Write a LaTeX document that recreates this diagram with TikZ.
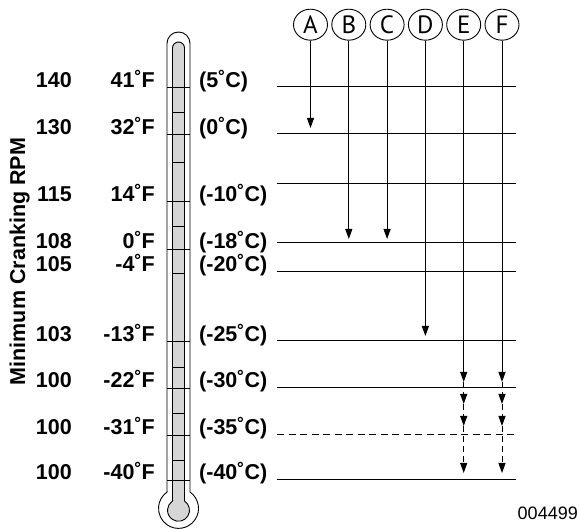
\documentclass[tikz,border=0pt]{standalone}
\usepackage{fontspec}
\setmainfont{Liberation Sans}
\newfontfamily\letterfont{PT Sans}
\usetikzlibrary{arrows.meta,shapes.geometric}
\begin{document}
\begin{tikzpicture}[x=1pt,y=-1pt,
  lbl/.style={font=\bfseries\fontsize{21.5}{25}\selectfont, inner sep=0pt},
  letter/.style={ellipse, draw, line width=0.9pt, minimum width=34pt, minimum height=31pt, inner sep=0pt, font=\letterfont\fontsize{25}{26}\selectfont},
  hline/.style={line width=1pt},
  tick/.style={line width=0.9pt},
  arr/.style={line width=1pt, -{Triangle[length=10pt,width=7pt]}},
  darr/.style={line width=1pt, dash pattern=on 6pt off 4pt, -{Triangle[length=10pt,width=7pt]}}]
\useasboundingbox (0,0) rectangle (579,529);

% thermometer
\fill[white] (167,492) -- (167,43.5) arc[start angle=180,end angle=360,radius=11.5] -- (190,492) arc[start angle=-55,end angle=235,radius=20] -- cycle;
\draw[line width=0.9pt] (167,492) -- (167,43.5) arc[start angle=180,end angle=360,radius=11.5] -- (190,492) arc[start angle=-55,end angle=235,radius=20] -- cycle;
\draw[line width=0.9pt, fill=black!16] (172.5,501) -- (172.5,48) arc[start angle=180,end angle=360,radius=6] -- (184.5,501) arc[start angle=-57,end angle=237,radius=11] -- cycle;
\foreach \y in {87,134,201,249,341,388,435,480} \draw[tick] (167,\y) -- (190,\y);
\foreach \y in {112,162,226,273,367,413,460} \draw[tick] (172.5,\y) -- (184.5,\y);

% rows of labels
\foreach \yb/\r/\f/\c in {88/140/41˚F/(5˚C), 135/130/32˚F/(0˚C), 201.5/115/14˚F/(-10˚C), 249/108/0˚F/(-18˚C), 272/105/-4˚F/(-20˚C), 341.5/103/-13˚F/(-25˚C), 388/100/-22˚F/(-30˚C), 435/100/-31˚F/(-35˚C), 480/100/-40˚F/(-40˚C)} {
  \node[lbl, anchor=base east] at (72,\yb) {\r};
  \node[lbl, anchor=base east] at (155,\yb) {\f};
  \node[lbl, anchor=base west] at (199,\yb) {\c};
}
\node[lbl, rotate=90, anchor=base] (ylab) at (25,261.5) {Minimum Cranking RPM};

% horizontal lines
\foreach \y in {87,134,184,243,272,341,388,480} \draw[hline] (277,\y) -- (516,\y);
\draw[hline, dash pattern=on 7pt off 4.5pt] (277,435) -- (516,435);

% letters
\node[letter] (A) at (310.5,24.7) {A};
\node[letter] (B) at (348.8,24.7) {B};
\node[letter] (C) at (387.1,24.7) {C};
\node[letter] (D) at (425.4,24.7) {D};
\node[letter] (E) at (463.7,24.7) {E};
\node[letter] (F) at (502,24.7) {F};

\coordinate (Aend) at (310.5,128);
\coordinate (Bend) at (348.8,239);
\coordinate (Cend) at (387.1,239);
\coordinate (Dend) at (425.4,336);
\coordinate (E1) at (463.7,382);
\coordinate (E2) at (463.7,404);
\coordinate (E3) at (463.7,426);
\coordinate (E4) at (463.7,473);
\coordinate (F1) at (502,382);
\coordinate (F2) at (502,404);
\coordinate (F3) at (502,426);
\coordinate (F4) at (502,473);

\draw[arr] (A) -- (Aend);
\draw[arr] (B) -- (Bend);
\draw[arr] (C) -- (Cend);
\draw[arr] (D) -- (Dend);
\draw[arr] (E) -- (E1);
\draw[arr] (F) -- (F1);
\draw[darr] (E1) -- (E2);
\draw[darr] (E2) -- (E3);
\draw[darr] (E3) -- (E4);
\draw[darr] (F1) -- (F2);
\draw[darr] (F2) -- (F3);
\draw[darr] (F3) -- (F4);

\node[font=\fontsize{18}{20}\selectfont, anchor=base east, inner sep=0pt] (code) at (578,520) {004499};
\end{tikzpicture}
\end{document}
